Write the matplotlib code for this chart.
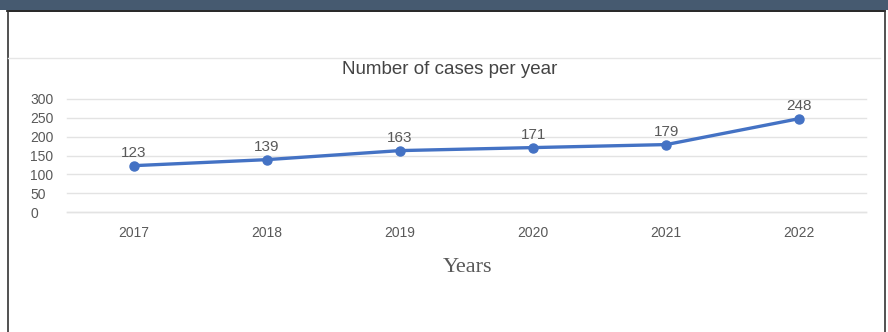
import matplotlib.pyplot as plt
from matplotlib.lines import Line2D
from matplotlib.patches import Rectangle

# Data
years = ["2017", "2018", "2019", "2020", "2021", "2022"]
cases = [123, 139, 163, 171, 179, 248]
y_ticks = [0, 50, 100, 150, 200, 250, 300]

W, H = 888, 332
fig = plt.figure(figsize=(W / 100, H / 100), dpi=100)
fig.patch.set_facecolor("white")

# Frame around the chart (dark band, black border, light separator)
fig.add_artist(Rectangle((0, 1 - 10 / H), 1, 10 / H, transform=fig.transFigure,
                         facecolor="#465a70", edgecolor="none"))
fig.add_artist(Line2D([7 / W, 885 / W], [1 - 10.5 / H, 1 - 10.5 / H],
                      transform=fig.transFigure, color="black", lw=1.2))
fig.add_artist(Line2D([7.5 / W, 7.5 / W], [0, 1 - 10.5 / H],
                      transform=fig.transFigure, color="#333333", lw=1.2))
fig.add_artist(Line2D([885 / W, 885 / W], [0, 1 - 10.5 / H],
                      transform=fig.transFigure, color="#333333", lw=1.2))
fig.add_artist(Line2D([8 / W, 880 / W], [1 - 58 / H, 1 - 58 / H],
                      transform=fig.transFigure, color="#e6e6e6", lw=1.0))

# Plot area
left, right, top, bottom = 67, 866, 99, 212
ax = fig.add_axes([left / W, 1 - bottom / H, (right - left) / W, (bottom - top) / H])
x = list(range(len(years)))

ax.plot(x, cases, color="#4472c4", linewidth=2.4, marker="o",
        markersize=6.5, zorder=3)

for xi, v in zip(x, cases):
    ax.annotate(str(v), (xi, v), xytext=(0, 4), textcoords="offset points",
                ha="center", va="bottom", fontsize=11, color="#595959",
                family="Liberation Sans")

ax.set_xlim(-0.5, len(years) - 0.5)
ax.set_ylim(0, 300)
ax.set_yticks(y_ticks)
ax.set_xticks(x)
ax.set_xticklabels(years)
ax.grid(axis="y", color="#e3e3e3", linewidth=1.0, clip_on=False)
ax.axhline(0, color="#e3e3e3", linewidth=1.0, clip_on=False, zorder=0)
ax.set_axisbelow(True)
for s in ax.spines.values():
    s.set_visible(False)
ax.tick_params(length=0, labelcolor="#595959", labelsize=10)
ax.tick_params(axis="y", pad=26.5)
ax.tick_params(axis="x", pad=10)
for lab in ax.get_xticklabels() + ax.get_yticklabels():
    lab.set_family("Liberation Sans")
for lab in ax.get_yticklabels():
    lab.set_horizontalalignment("left")

fig.text(450 / W, 1 - 70 / H, "Number of cases per year", fontsize=13.5,
         color="#444444", family="Liberation Sans", ha="center", va="center")
fig.text(467 / W, 1 - 268 / H, "Years", fontsize=16, color="#595959",
         family="Liberation Serif", ha="center", va="center")

fig.savefig("out.png", dpi=100)
